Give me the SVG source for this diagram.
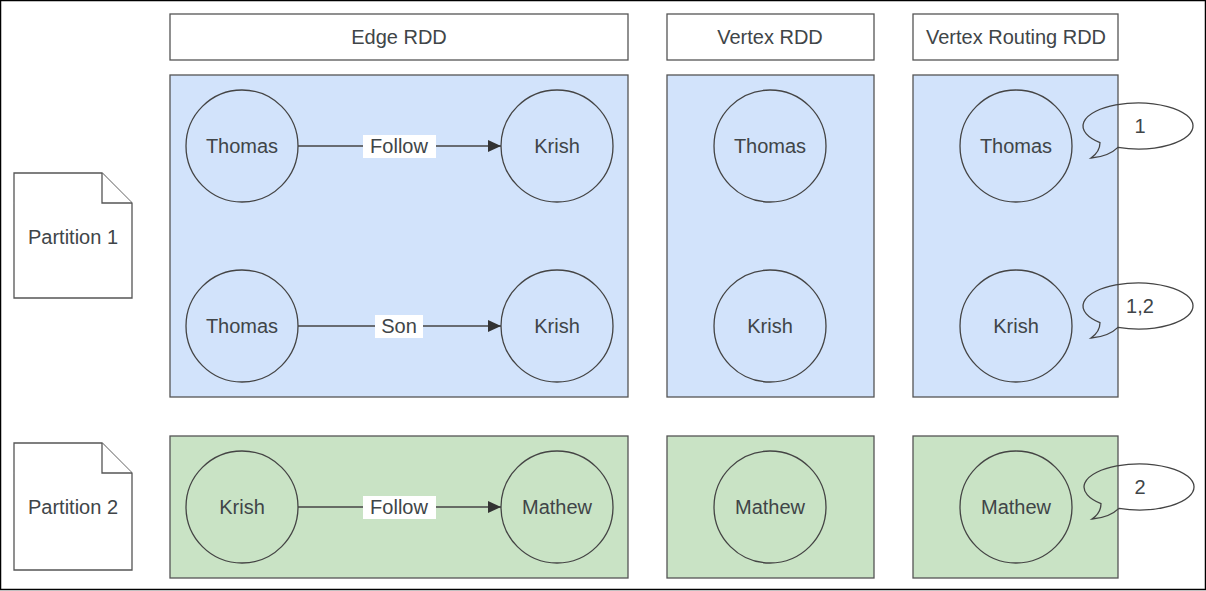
<svg xmlns="http://www.w3.org/2000/svg" width="1206" height="591" viewBox="0 0 1206 591">
<defs>
<style>
text{font-family:"Liberation Sans",Arial,sans-serif;font-size:20px;fill:#404548;text-anchor:middle;dominant-baseline:central}
.hdr{fill:#fff;stroke:#555;stroke-width:1.3}
.blue{fill:#d2e3fb;stroke:#555;stroke-width:1.3}
.green{fill:#c9e3c5;stroke:#555;stroke-width:1.3}
.node{fill:none;stroke:#444;stroke-width:1.3}
.doc{fill:#fff;stroke:#555;stroke-width:1.3}
.edge{stroke:#444;stroke-width:1.3;fill:none;marker-end:url(#arr)}
.lbl{fill:#fff}
.bub{fill:none;stroke:#444;stroke-width:1.3}
</style>
<marker id="arr" viewBox="0 0 13 12" refX="13" refY="6" markerWidth="13" markerHeight="12" markerUnits="userSpaceOnUse" orient="auto">
<path d="M0,0 L13,6 L0,12 Z" fill="#333"/>
</marker>
</defs>
<rect x="0.5" y="0.5" width="1205" height="589" fill="#fff" stroke="#000" stroke-width="1.5"/>

<g id="partition1">
<path class="doc" d="M14,173 H102 L132,203 V298 H14 Z"/>
<path class="doc" d="M102,173 V203 H132"/>
<text x="73" y="237">Partition 1</text>
</g>
<g id="partition2">
<path class="doc" d="M14,443 H102 L132,473 V570 H14 Z"/>
<path class="doc" d="M102,443 V473 H132"/>
<text x="73" y="507">Partition 2</text>
</g>

<g id="hdr-edge"><rect class="hdr" x="170" y="14" width="458" height="46"/><text x="399" y="37">Edge RDD</text></g>
<g id="hdr-vertex"><rect class="hdr" x="667" y="14" width="207" height="46"/><text x="770" y="37">Vertex RDD</text></g>
<g id="hdr-routing"><rect class="hdr" x="913" y="14" width="205" height="46"/><text x="1016" y="37">Vertex Routing RDD</text></g>

<g id="p1-edge-box"><rect class="blue" x="170" y="75" width="458" height="322"/></g>
<g id="p1-vertex-box"><rect class="blue" x="667" y="75" width="207" height="322"/></g>
<g id="p1-routing-box"><rect class="blue" x="913" y="75" width="205" height="322"/></g>
<g id="p2-edge-box"><rect class="green" x="170" y="436" width="458" height="142"/></g>
<g id="p2-vertex-box"><rect class="green" x="667" y="436" width="207" height="142"/></g>
<g id="p2-routing-box"><rect class="green" x="913" y="436" width="205" height="142"/></g>

<g id="e1-thomas"><circle class="node" cx="242" cy="146" r="56"/><text x="242" y="146">Thomas</text></g>
<g id="e1-krish"><circle class="node" cx="557" cy="146" r="56"/><text x="557" y="146">Krish</text></g>
<g id="e2-thomas"><circle class="node" cx="242" cy="326" r="56"/><text x="242" y="326">Thomas</text></g>
<g id="e2-krish"><circle class="node" cx="557" cy="326" r="56"/><text x="557" y="326">Krish</text></g>
<g id="e3-krish"><circle class="node" cx="242" cy="507" r="56"/><text x="242" y="507">Krish</text></g>
<g id="e3-mathew"><circle class="node" cx="557" cy="507" r="56"/><text x="557" y="507">Mathew</text></g>

<g id="v-thomas"><circle class="node" cx="770" cy="146" r="56"/><text x="770" y="146">Thomas</text></g>
<g id="v-krish"><circle class="node" cx="770" cy="326" r="56"/><text x="770" y="326">Krish</text></g>
<g id="v-mathew"><circle class="node" cx="770" cy="507" r="56"/><text x="770" y="507">Mathew</text></g>

<g id="r-thomas"><circle class="node" cx="1016" cy="146" r="56"/><text x="1016" y="146">Thomas</text></g>
<g id="r-krish"><circle class="node" cx="1016" cy="326" r="56"/><text x="1016" y="326">Krish</text></g>
<g id="r-mathew"><circle class="node" cx="1016" cy="507" r="56"/><text x="1016" y="507">Mathew</text></g>

<g id="connectors">
<path class="edge" d="M298,146 H501"/>
<rect class="lbl" x="363" y="135" width="73" height="23"/>
<text x="399" y="146">Follow</text>
<path class="edge" d="M298,326 H501"/>
<rect class="lbl" x="375" y="315" width="48" height="23"/>
<text x="399" y="326">Son</text>
<path class="edge" d="M298,507 H501"/>
<rect class="lbl" x="363" y="496" width="73" height="23"/>
<text x="399" y="507">Follow</text>
</g>

<g id="bubble1">
<path class="bub" d="M1118,147.4 A55,23 0 1 0 1100,142.6 Q1100,152 1091,158 Q1108,157 1118,147.4 Z"/>
<text x="1140" y="126">1</text>
</g>
<g id="bubble2">
<path class="bub" d="M1118,327.4 A55,23 0 1 0 1100,322.6 Q1100,332 1091,338 Q1108,337 1118,327.4 Z"/>
<text x="1140" y="306">1,2</text>
</g>
<g id="bubble3">
<path class="bub" d="M1119,508.4 A55,23 0 1 0 1101,503.6 Q1101,513 1092,519 Q1109,518 1119,508.4 Z"/>
<text x="1140" y="487">2</text>
</g>
</svg>
